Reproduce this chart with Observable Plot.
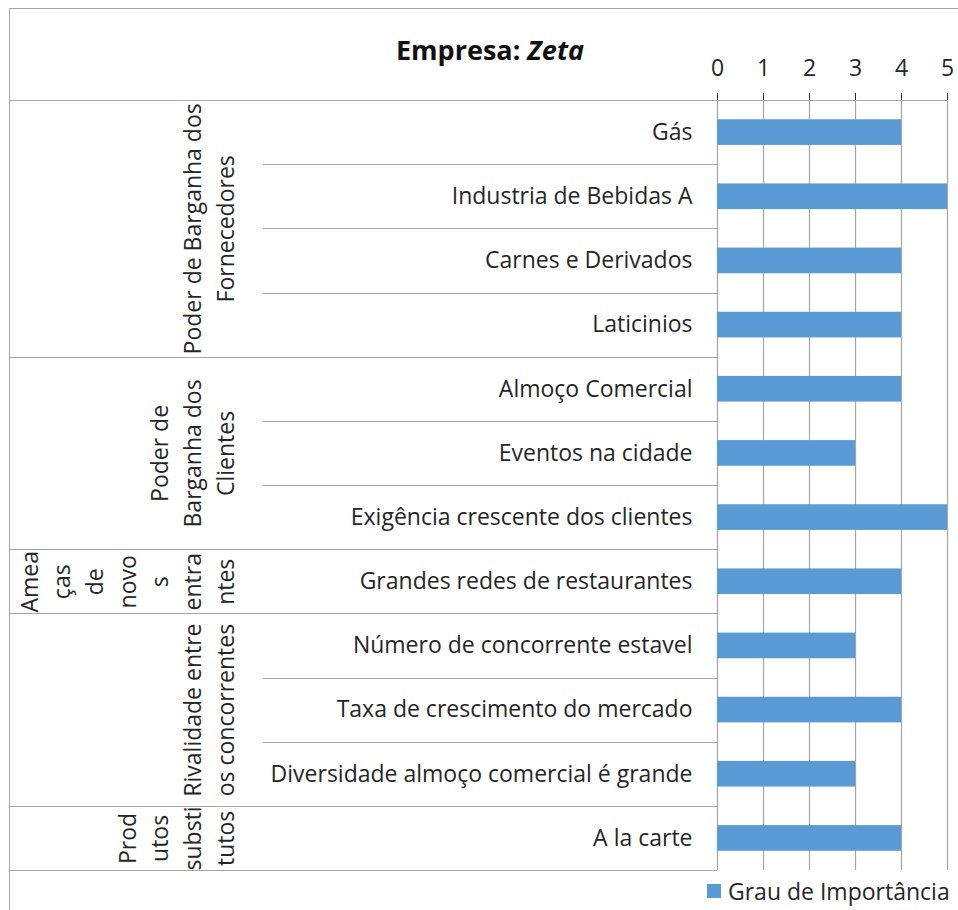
<!DOCTYPE html>
<html>
<head>
<meta charset="utf-8">
<script src="https://cdn.jsdelivr.net/npm/d3@7"></script>
<script src="https://cdn.jsdelivr.net/npm/@observablehq/plot@0.6"></script>
<style>
  html, body { margin: 0; padding: 0; background: #fff; }
  #wrap { position: relative; width: 958px; height: 910px; overflow: hidden; font-family: "Open Sans", sans-serif; color: #262626; }
  #frame { position: absolute; left: 9px; top: 8px; width: 960px; height: 920px; border-top: 1.5px solid #a6a6a6; border-left: 1.5px solid #a6a6a6; }
  #chart { position: absolute; left: 0; top: 0; }
  #title { position: absolute; left: 0; width: 980px; top: 31px; text-align: center; font-size: 27px; font-weight: bold; color: #111; line-height: 38px; }
  #legend { position: absolute; left: 707px; top: 875px; display: flex; align-items: center; font-size: 23px; white-space: nowrap; line-height: 32px; }
  #legend .sw { width: 14px; height: 14px; background: #5b9bd5; margin-right: 7px; }
</style>
</head>
<body>
<div id="wrap">
  <div id="frame"></div>
  <div id="chart"></div>
  <div id="title">Empresa: <i>Zeta</i></div>
  <div id="legend"><div class="sw"></div><span id="legendText"></span></div>
</div>
<script>
// ---- data ----
const seriesName = "Grau de Importância";
const items = [
  "Gás",
  "Industria de Bebidas A",
  "Carnes e Derivados",
  "Laticinios",
  "Almoço Comercial",
  "Eventos na cidade",
  "Exigência crescente dos clientes",
  "Grandes redes de restaurantes",
  "Número de concorrente estavel",
  "Taxa de crescimento do mercado",
  "Diversidade almoço comercial é grande",
  "A la carte"
];
const values = [4, 5, 4, 4, 4, 3, 5, 4, 3, 4, 3, 4];
const itemGroup = [0, 0, 0, 0, 1, 1, 1, 2, 3, 3, 3, 4];
const groupLabels = [
  ["Poder de Barganha dos", "Fornecedores"],
  ["Poder de", "Barganha dos", "Clientes"],
  ["Amea", "ças", "de", "novo", "s", "entra", "ntes"],
  ["Rivalidade entre", "os concorrentes"],
  ["Prod", "utos", "substi", "tutos"]
];
const xTicks = [0, 1, 2, 3, 4, 5];

// ---- derived tables ----
const rows = items.map((name, i) => ({i, name, value: values[i], group: itemGroup[i]}));
const groups = groupLabels.map((lines, g) => {
  const idx = rows.filter(r => r.group === g).map(r => r.i);
  return {g, text: lines.join("\n"), first: d3.min(idx), last: d3.max(idx), center: (d3.min(idx) + d3.max(idx)) / 2};
});
const groupBounds = [groups[0].first - 0.5, ...groups.map(d => d.last + 0.5)];
const itemBounds = rows.slice(0, -1).filter(r => itemGroup[r.i] === itemGroup[r.i + 1]).map(r => r.i + 0.5);

const lineColor = "#a6a6a6";
const font = "'Open Sans', sans-serif";
const fs = 23;

// category-table lines drawn in the left margin with the plot's y scale
function categoryLines(index, scales, values, dims) {
  const g = d3.create("svg:g").attr("stroke", lineColor).attr("stroke-width", 1.2).attr("shape-rendering", "crispEdges");
  const left = 9, inner = 263, right = dims.marginLeft;
  for (const b of groupBounds) {
    const y = Math.round(scales.y(b)) + 0.5;
    g.append("line").attr("x1", left).attr("x2", right).attr("y1", y).attr("y2", y);
  }
  for (const b of itemBounds) {
    const y = Math.round(scales.y(b)) + 0.5;
    g.append("line").attr("x1", inner).attr("x2", right).attr("y1", y).attr("y2", y);
  }
  return g.node();
}

const chart = Plot.plot({
  width: 958,
  height: 910,
  marginLeft: 717,
  marginRight: 11,
  marginTop: 100,
  marginBottom: 40,
  style: {fontFamily: font, fontSize: fs + "px", color: "#262626", background: "transparent", overflow: "visible"},
  x: {domain: [0, 5], axis: "top", ticks: xTicks, tickSize: 8, tickPadding: 17, label: null, tickFormat: d3.format("d")},
  y: {domain: [rows.length - 0.5, -0.5], axis: null},
  marks: [
    Plot.ruleX(xTicks, {stroke: lineColor, strokeWidth: 1.2}),
    Plot.ruleY([groupBounds[0]], {stroke: lineColor, strokeWidth: 1.2}),
    Plot.rect(rows, {x1: 0, x2: "value", y1: d => d.i - 0.2, y2: d => d.i + 0.2, fill: "#5b9bd5"}),
    categoryLines,
    Plot.text(rows, {x: 0, y: "i", text: "name", textAnchor: "end", dx: -25, fontSize: fs, fill: "#262626"}),
    Plot.text(groups, {frameAnchor: "left", y: "center", text: "text", rotate: -90, lineAnchor: "bottom", textAnchor: "middle", lineHeight: 1.42, dx: 233 - 717, fontSize: fs, fill: "#262626"})
  ]
});
document.getElementById("chart").appendChild(chart);
document.getElementById("legendText").textContent = seriesName;
</script>
</body>
</html>
